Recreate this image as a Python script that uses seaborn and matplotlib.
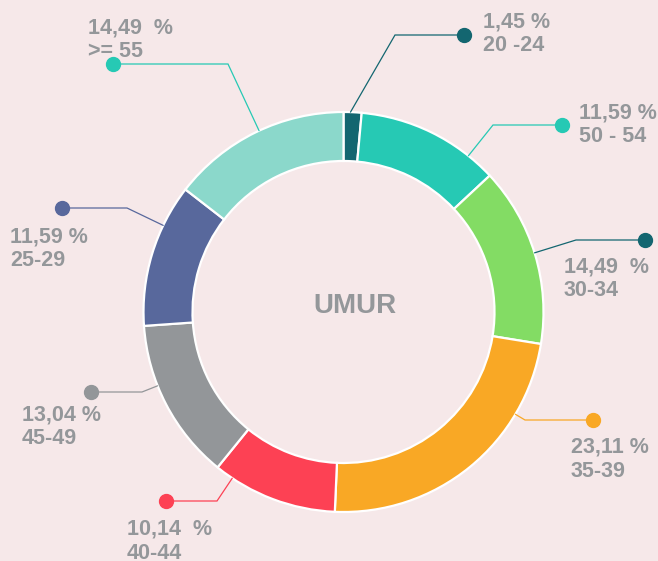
import numpy as np
import matplotlib
matplotlib.use('Agg')
import matplotlib.pyplot as plt
import seaborn as sns

# Data, clockwise from the top.
groups = ['20 -24', '50 - 54', '30-34', '35-39', '40-44', '45-49', '25-29', '>= 55']
shares = [1.45, 11.59, 14.49, 23.11, 10.14, 13.04, 11.59, 14.49]
center_title = 'UMUR'

slice_colors = ['#136670', '#26c9b4', '#83dc64', '#f9a825',
                '#fd4154', '#939699', '#58689c', '#8bd8cb']
dot_colors = ['#136670', '#26c9b4', '#136670', '#f9a825',
              '#fd4154', '#939699', '#58689c', '#26c9b4']

# Label layout in pixels (x, y from top): dot, elbow x, text top-left, gap before %.
dots = [(464, 35), (562, 125), (645, 240), (593, 420),
        (166, 501), (91, 392), (62, 208), (113, 64)]
elbows = [395, 493, 576, 525, 217, 142, 127, 228]
texts = [(483, 11), (579, 102), (564, 256), (571, 437),
         (127, 519), (22, 404), (10, 226), (88, 17)]
gaps = [' ', ' ', '  ', ' ', '  ', ' ', ' ', '  ']

W, H = 658, 561
bg = '#f6e8e9'
grey = '#94979a'

sns.set_style('white')
plt.rcParams['font.family'] = ['Liberation Sans', 'DejaVu Sans']

fig = plt.figure(figsize=(W / 100, H / 100), dpi=100, facecolor=bg)
ax = fig.add_axes([0, 0, 1, 1])
ax.set_facecolor(bg)

cx, cy, r = 343.5, H - 312, 200
wedges, _ = ax.pie(
    shares, colors=slice_colors, startangle=90, counterclock=False,
    normalize=True, center=(cx, cy), radius=r,
    wedgeprops=dict(width=49, edgecolor='white', linewidth=1.6))

for i, w in enumerate(wedges):
    dx, dy = dots[i][0], H - dots[i][1]
    ex = elbows[i]
    # connector points at the elbow's direction, kept inside the slice
    ang = np.degrees(np.arctan2(dy - cy, ex - cx))
    ang = w.theta1 + (ang - w.theta1) % 360
    pad = min(2.0, (w.theta2 - w.theta1) / 2)
    ang = np.clip(ang, w.theta1 + pad, w.theta2 - pad)
    a = np.deg2rad(ang)
    ax_x, ax_y = cx + r * np.cos(a), cy + r * np.sin(a)
    ax.plot([dx, ex, ax_x], [dy, dy, ax_y], color=dot_colors[i], lw=0.9,
            solid_joinstyle='miter')
    ax.plot([dx], [dy], 'o', ms=10, color=dot_colors[i])
    pct = f'{shares[i]:.2f}'.replace('.', ',')
    tx, ty = texts[i]
    ax.text(tx, H - ty, f'{pct}{gaps[i]}%\n{groups[i]}', ha='left', va='top',
            fontsize=15.5, fontweight='bold', color=grey, linespacing=1.2)

ax.text(355, H - 306, center_title, ha='center', va='center',
        fontsize=20, fontweight='bold', color=grey)

ax.set_xlim(0, W)
ax.set_ylim(0, H)
ax.set_aspect('equal')
ax.axis('off')

fig.savefig('out.png', dpi=100, facecolor=bg)
